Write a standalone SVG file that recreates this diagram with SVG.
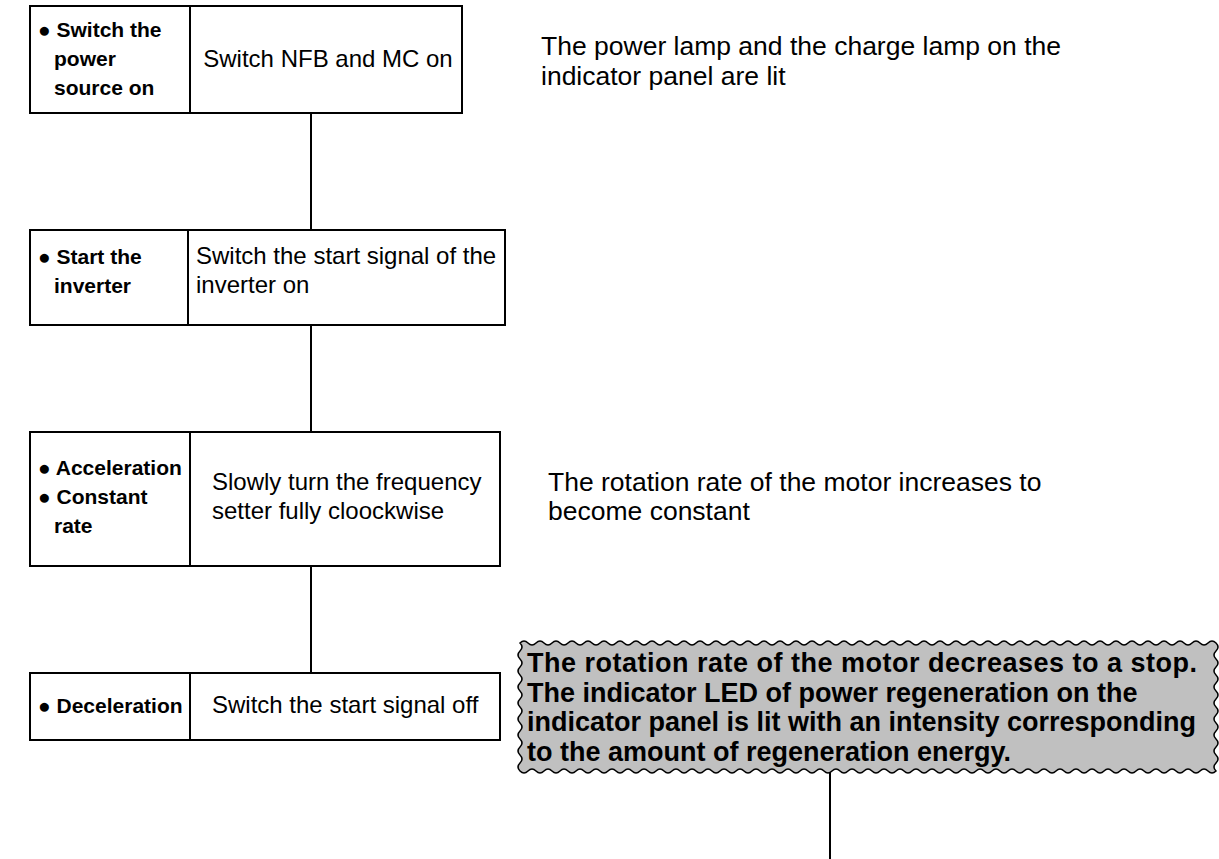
<svg xmlns="http://www.w3.org/2000/svg" width="1219" height="859" viewBox="0 0 1219 859">
<style>
.box{fill:#fff;stroke:#000;stroke-width:2}
.div{stroke:#000;stroke-width:2}
.conn{stroke:#000;stroke-width:2;fill:none}
.lbl{font-family:"Liberation Sans",Arial,sans-serif;font-weight:bold;font-size:21px;fill:#000}
.act{font-family:"Liberation Sans",Arial,sans-serif;font-size:24px;fill:#000}
.note{font-family:"Liberation Sans",Arial,sans-serif;font-size:26.5px;fill:#000}
.call{font-family:"Liberation Sans",Arial,sans-serif;font-weight:bold;font-size:27px;fill:#000}
</style>
<rect width="1219" height="859" fill="#fff"/>
<g id="connectors">
<line class="conn" x1="311" y1="113" x2="311" y2="230"/>
<line class="conn" x1="311" y1="325" x2="311" y2="432"/>
<line class="conn" x1="311" y1="566" x2="311" y2="673"/>
<line class="conn" x1="830" y1="771" x2="830" y2="859"/>
</g>
<g id="step1">
<rect class="box" x="30" y="6" width="432" height="107"/>
<line class="div" x1="190" y1="6" x2="190" y2="113"/>
<text class="lbl" x="38" y="37">● Switch the</text>
<text class="lbl" x="54" y="66">power</text>
<text class="lbl" x="54" y="95">source on</text>
<text class="act" x="328" y="67" text-anchor="middle">Switch NFB and MC on</text>
</g>
<g id="step2">
<rect class="box" x="30" y="230" width="475" height="95"/>
<line class="div" x1="188" y1="230" x2="188" y2="325"/>
<text class="lbl" x="38" y="264">● Start the</text>
<text class="lbl" x="54" y="293">inverter</text>
<text class="act" x="196" y="264">Switch the start signal of the</text>
<text class="act" x="196" y="293">inverter on</text>
</g>
<g id="step3">
<rect class="box" x="30" y="432" width="470" height="134"/>
<line class="div" x1="190" y1="432" x2="190" y2="566"/>
<text class="lbl" x="38" y="475">● Acceleration</text>
<text class="lbl" x="38" y="504">● Constant</text>
<text class="lbl" x="54" y="533">rate</text>
<text class="act" x="212" y="490">Slowly turn the frequency</text>
<text class="act" x="212" y="519">setter fully cloockwise</text>
</g>
<g id="step4">
<rect class="box" x="30" y="673" width="470" height="67"/>
<line class="div" x1="190" y1="673" x2="190" y2="740"/>
<text class="lbl" x="38" y="713">● Deceleration</text>
<text class="act" x="212" y="713">Switch the start signal off</text>
</g>
<g id="note1">
<text class="note" x="541" y="55">The power lamp and the charge lamp on the</text>
<text class="note" x="541" y="85">indicator panel are lit</text>
</g>
<g id="note2">
<text class="note" x="548" y="491">The rotation rate of the motor increases to</text>
<text class="note" x="548" y="520">become constant</text>
</g>
<g id="callout">
<path fill="#c0c0c0" stroke="#000" stroke-width="1.5" d="M520,643 Q524,639 528,643 T536,643 T544,643 T552,643 T560,643 T568,643 T576,643 T584,643 T592,643 T600,643 T608,643 T616,643 T624,643 T632,643 T640,643 T648,643 T656,643 T664,643 T672,643 T680,643 T688,643 T696,643 T704,643 T712,643 T720,643 T728,643 T736,643 T744,643 T752,643 T760,643 T768,643 T776,643 T784,643 T792,643 T800,643 T808,643 T816,643 T824,643 T832,643 T840,643 T848,643 T856,643 T864,643 T872,643 T880,643 T888,643 T896,643 T904,643 T912,643 T920,643 T928,643 T936,643 T944,643 T952,643 T960,643 T968,643 T976,643 T984,643 T992,643 T1000,643 T1008,643 T1016,643 T1024,643 T1032,643 T1040,643 T1048,643 T1056,643 T1064,643 T1072,643 T1080,643 T1088,643 T1096,643 T1104,643 T1112,643 T1120,643 T1128,643 T1136,643 T1144,643 T1152,643 T1160,643 T1168,643 T1176,643 T1184,643 T1192,643 T1200,643 T1208,643 T1216,643 Q1220,647 1216,651 T1216,659 T1216,667 T1216,675 T1216,683 T1216,691 T1216,699 T1216,707 T1216,715 T1216,723 T1216,731 T1216,739 T1216,747 T1216,755 T1216,763 T1216,771 Q1212,775 1208,771 T1200,771 T1192,771 T1184,771 T1176,771 T1168,771 T1160,771 T1152,771 T1144,771 T1136,771 T1128,771 T1120,771 T1112,771 T1104,771 T1096,771 T1088,771 T1080,771 T1072,771 T1064,771 T1056,771 T1048,771 T1040,771 T1032,771 T1024,771 T1016,771 T1008,771 T1000,771 T992,771 T984,771 T976,771 T968,771 T960,771 T952,771 T944,771 T936,771 T928,771 T920,771 T912,771 T904,771 T896,771 T888,771 T880,771 T872,771 T864,771 T856,771 T848,771 T840,771 T832,771 T824,771 T816,771 T808,771 T800,771 T792,771 T784,771 T776,771 T768,771 T760,771 T752,771 T744,771 T736,771 T728,771 T720,771 T712,771 T704,771 T696,771 T688,771 T680,771 T672,771 T664,771 T656,771 T648,771 T640,771 T632,771 T624,771 T616,771 T608,771 T600,771 T592,771 T584,771 T576,771 T568,771 T560,771 T552,771 T544,771 T536,771 T528,771 T520,771 Q516,767 520,763 T520,755 T520,747 T520,739 T520,731 T520,723 T520,715 T520,707 T520,699 T520,691 T520,683 T520,675 T520,667 T520,659 T520,651 T520,643 Z"/>
<text class="call" x="527" y="672" textLength="670" lengthAdjust="spacing">The rotation rate of the motor decreases to a stop.</text>
<text class="call" x="527" y="702">The indicator LED of power regeneration on the</text>
<text class="call" x="527" y="731">indicator panel is lit with an intensity corresponding</text>
<text class="call" x="527" y="761">to the amount of regeneration energy.</text>
</g>
</svg>
